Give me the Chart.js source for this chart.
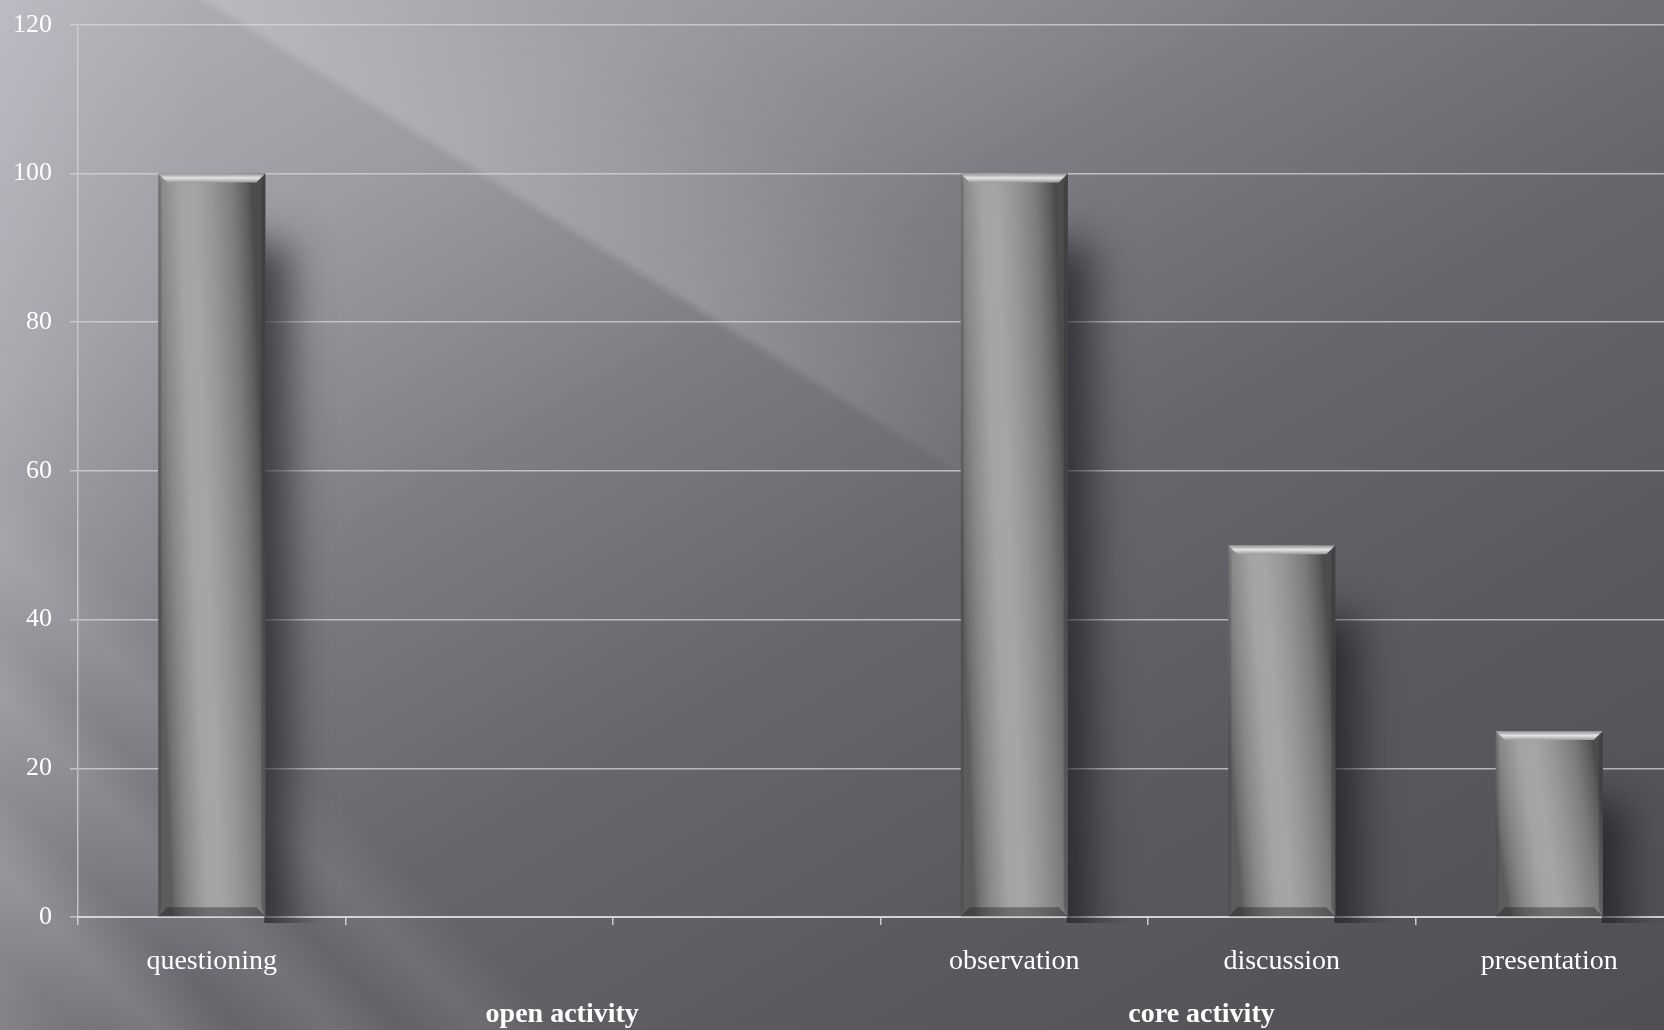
<!DOCTYPE html>
<html>
<head>
<meta charset="utf-8">
<script src="https://cdn.jsdelivr.net/npm/chart.js@4"></script>
<style>
html, body { margin:0; padding:0; overflow:hidden; }
body {
  width:1664px; height:1030px; position:relative;
  background:
    linear-gradient(45deg, rgba(255,255,255,0) 3%, rgba(255,255,255,0.11) 6%, rgba(255,255,255,0) 9%, rgba(255,255,255,0.09) 12.5%, rgba(255,255,255,0) 15%, rgba(255,255,255,0.08) 18%, rgba(255,255,255,0) 21%),
    linear-gradient(to right, rgba(225,220,230,0.20) 0%, rgba(225,220,230,0.08) 6%, rgba(225,220,230,0) 12%),
    linear-gradient(150deg, #b5b1b9 0%, #9d9aa1 20%, #7e7b82 38%, #69676d 55%, #5a595e 75%, #504f54 100%);
}
#beam {
  position:absolute; left:0; top:0; width:1664px; height:1030px;
  background: linear-gradient(32deg, rgba(255,255,255,0) 55.6%, rgba(255,255,255,0.17) 56.2%, rgba(255,255,255,0.10) 61%, rgba(255,255,255,0.03) 66%, rgba(255,255,255,0) 71%);
  -webkit-mask-image: radial-gradient(ellipse 1250px 950px at 0% 0%, #000 65%, transparent 100%);
  mask-image: radial-gradient(ellipse 1250px 950px at 0% 0%, #000 65%, transparent 100%);
}
#wrap { position:absolute; left:0; top:0; width:1700px; height:1030px; }
</style>
</head>
<body>
<div id="beam"></div>
<div id="wrap"><canvas id="c" width="1700" height="1030"></canvas></div>
<script>
var categories = ['questioning', '', '', 'observation', 'discussion', 'presentation'];
var values = [100, 0, 0, 100, 50, 25];
var groupLabels = ['open activity', 'core activity'];
var yTicks = [0, 20, 40, 60, 80, 100, 120];

var serif = '"Liberation Serif", "DejaVu Serif", serif';

function barFill(c) {
  var chart = c.chart;
  var xs = chart.scales.x, ys = chart.scales.y;
  if (!xs || !ys) return '#888';
  var cx = xs.getPixelForValue(c.dataIndex);
  var w = (xs.width / categories.length) * 0.4;
  var top = ys.getPixelForValue(values[c.dataIndex]);
  var h = ys.bottom - top;
  if (!isFinite(cx) || !isFinite(w) || !isFinite(h) || w <= 0 || h <= 0) return '#888';
  var x0 = cx - w / 2, x1 = cx + w / 2;
  var mid = (top + ys.bottom) / 2;
  var k = 28 * w / h;
  var g = chart.ctx.createLinearGradient(x0, mid, x1, mid - k);
  g.addColorStop(0, '#5c5c5c');
  g.addColorStop(0.05, '#707070');
  g.addColorStop(0.15, '#888888');
  g.addColorStop(0.32, '#a3a3a3');
  g.addColorStop(0.45, '#a6a6a6');
  g.addColorStop(0.62, '#979797');
  g.addColorStop(0.82, '#7c7c7c');
  g.addColorStop(0.95, '#5e5e5e');
  g.addColorStop(1, '#4c4c4c');
  return g;
}

// soft shadow right of the bars and the bevels on them
var barLook = {
  id: 'barLook',
  beforeDatasetsDraw: function(chart) {
    var ctx = chart.ctx, a = chart.chartArea;
    chart.getDatasetMeta(0).data.forEach(function(bar, i) {
      if (!values[i]) return;
      var p = bar.getProps(['x', 'y', 'base', 'width'], true);
      var l = p.x - p.width / 2;
      ctx.save();
      ctx.beginPath();
      ctx.rect(l + p.width - 1, a.top, 200, a.bottom + 6 - a.top);
      ctx.clip();
      ctx.shadowColor = 'rgba(25,25,30,0.7)';
      ctx.shadowBlur = 40;
      ctx.shadowOffsetX = 24;
      ctx.shadowOffsetY = 70;
      ctx.fillStyle = '#505050';
      ctx.fillRect(l, p.y, p.width, p.base - p.y);
      ctx.restore();
    });
  },
  afterDatasetsDraw: function(chart) {
    var ctx = chart.ctx;
    chart.getDatasetMeta(0).data.forEach(function(bar, i) {
      if (!values[i]) return;
      var p = bar.getProps(['x', 'y', 'base', 'width'], true);
      var l = p.x - p.width / 2, r = p.x + p.width / 2, t = p.y, b = p.base;
      var bv = 9;
      ctx.save();
      // top bevel
      var g = ctx.createLinearGradient(0, t, 0, t + bv);
      g.addColorStop(0, '#909090');
      g.addColorStop(0.5, '#e4e4e4');
      g.addColorStop(1, '#9a9a9a');
      ctx.fillStyle = g;
      ctx.beginPath();
      ctx.moveTo(l, t); ctx.lineTo(r, t); ctx.lineTo(r - bv, t + bv); ctx.lineTo(l + bv, t + bv); ctx.closePath();
      ctx.fill();
      // bottom bevel
      ctx.fillStyle = 'rgba(30,30,30,0.4)';
      ctx.beginPath();
      ctx.moveTo(l, b); ctx.lineTo(r, b); ctx.lineTo(r - bv, b - bv); ctx.lineTo(l + bv, b - bv); ctx.closePath();
      ctx.fill();
      // side bevels
      ctx.fillStyle = 'rgba(30,30,30,0.25)';
      ctx.beginPath();
      ctx.moveTo(r, t); ctx.lineTo(r, b); ctx.lineTo(r - 4, b - bv); ctx.lineTo(r - 4, t + bv); ctx.closePath();
      ctx.fill();
      ctx.fillStyle = 'rgba(40,40,40,0.2)';
      ctx.beginPath();
      ctx.moveTo(l, t); ctx.lineTo(l, b); ctx.lineTo(l + 3, b - bv); ctx.lineTo(l + 3, t + bv); ctx.closePath();
      ctx.fill();
      ctx.restore();
    });
  },
  afterDraw: function(chart) {
    var ctx = chart.ctx, xs = chart.scales.x;
    // group labels under the category labels
    var at = [1.31, 3.7];
    ctx.save();
    ctx.font = 'bold 28px ' + serif;
    ctx.fillStyle = '#ffffff';
    ctx.textAlign = 'center';
    ctx.textBaseline = 'middle';
    groupLabels.forEach(function(name, i) {
      ctx.fillText(name, xs.getPixelForValue(at[i]), 1015);
    });
    ctx.restore();
  }
};

new Chart(document.getElementById('c'), {
  type: 'bar',
  data: {
    labels: categories,
    datasets: [{
      data: values,
      backgroundColor: barFill,
      borderWidth: 0,
      barPercentage: 0.4,
      categoryPercentage: 1
    }]
  },
  options: {
    responsive: false,
    animation: false,
    layout: { padding: { top: 0, right: 17, left: 0, bottom: 0 } },
    plugins: { legend: { display: false }, tooltip: { enabled: false } },
    scales: {
      x: {
        afterFit: function(s) { s.height = 113; },
        grid: { offset: true, drawOnChartArea: false, color: 'rgba(215,215,215,0.9)', tickLength: 8, lineWidth: 1.5 },
        border: { color: 'rgba(215,215,215,0.95)', width: 2 },
        ticks: { color: '#ffffff', font: { family: serif, size: 28 }, padding: 20, maxRotation: 0, autoSkip: false }
      },
      y: {
        min: 0, max: 120,
        afterFit: function(s) { s.width = 78; },
        afterBuildTicks: function(s) { s.ticks = yTicks.map(function(v) { return { value: v }; }); },
        grid: { color: 'rgba(215,215,215,0.75)', tickLength: 8, lineWidth: 1.5 },
        border: { color: 'rgba(215,215,215,0.7)', width: 1.5 },
        ticks: { color: '#ffffff', font: { family: serif, size: 26, lineHeight: 0.52 }, padding: 18 }
      }
    }
  },
  plugins: [barLook]
});
</script>
</body>
</html>
